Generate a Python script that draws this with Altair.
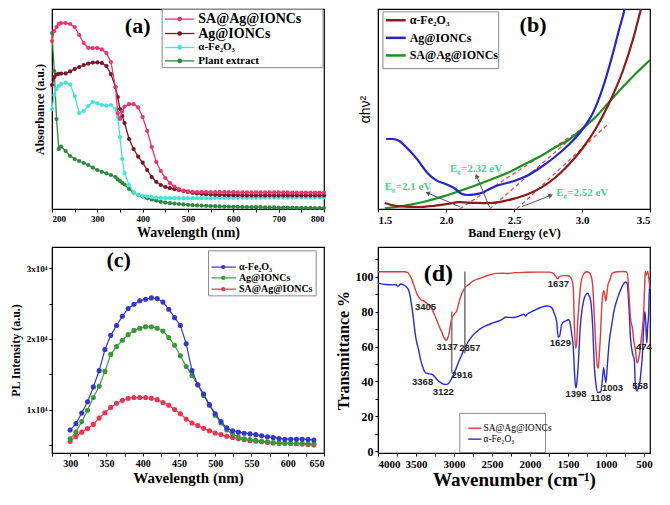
import math
import altair as alt
import pandas as pd

W = 272
H1 = 200
H2 = 206
SERIF = "Liberation Serif"
SANS = "Liberation Sans"

# ---------------- (a) UV-Vis absorbance ----------------
A_WL = [200, 205, 210, 215, 220] + list(range(230, 341, 10)) + [345, 350, 355] + list(range(360, 801, 10))
A_SA = [0.84, 0.89, 0.91, 0.925, 0.93,
        0.93, 0.925, 0.91, 0.87, 0.83, 0.806, 0.805, 0.805, 0.798, 0.78, 0.735, 0.61,
        0.48, 0.45, 0.49,
        0.512, 0.524, 0.524, 0.508, 0.46, 0.39, 0.31, 0.235, 0.19, 0.155,
        0.13, 0.112, 0.1, 0.092, 0.088, 0.086,
        0.085, 0.085, 0.085, 0.084, 0.084, 0.084, 0.084, 0.084, 0.084, 0.083, 0.083, 0.083, 0.083, 0.083,
        0.083, 0.083, 0.083, 0.083, 0.083, 0.083, 0.083, 0.082, 0.082, 0.082, 0.082, 0.082, 0.082, 0.082, 0.082]
A_AG = [0.62, 0.66, 0.672, 0.676, 0.677,
        0.678, 0.688, 0.70, 0.71, 0.72, 0.727, 0.732, 0.733, 0.73, 0.715, 0.675, 0.61,
        0.56, 0.50, 0.465,
        0.43, 0.35, 0.30, 0.262, 0.232, 0.195, 0.16, 0.136, 0.12, 0.11,
        0.104, 0.099, 0.095, 0.09, 0.085, 0.081,
        0.078, 0.076, 0.074, 0.072, 0.071, 0.07, 0.07, 0.069, 0.069, 0.069, 0.068, 0.068, 0.068, 0.068,
        0.068, 0.068, 0.068, 0.068, 0.068, 0.068, 0.068, 0.068, 0.068, 0.068, 0.068, 0.068, 0.068, 0.068, 0.068]
A_FE = [0.50, 0.57, 0.60, 0.615, 0.625,
        0.632, 0.622, 0.565, 0.48, 0.49, 0.515, 0.535, 0.528, 0.52, 0.517, 0.52, 0.50,
        0.46, 0.36, 0.25,
        0.18, 0.12, 0.085, 0.072, 0.066, 0.062, 0.059, 0.057, 0.056, 0.055,
        0.055, 0.054, 0.054, 0.054, 0.054, 0.054,
        0.054, 0.054, 0.054, 0.054, 0.055, 0.055, 0.055, 0.055, 0.055, 0.056, 0.056, 0.056, 0.056, 0.056,
        0.056, 0.057, 0.057, 0.057, 0.057, 0.057, 0.057, 0.057, 0.058, 0.058, 0.058, 0.058, 0.058, 0.058, 0.058]
A_PL = [0.88, 0.69, 0.45, 0.30, 0.312,
        0.29, 0.265, 0.25, 0.24, 0.23, 0.22, 0.207, 0.195, 0.186, 0.178, 0.17, 0.16,
        0.148, 0.14, 0.13,
        0.122, 0.10, 0.082, 0.07, 0.062, 0.054, 0.048, 0.042, 0.036, 0.032,
        0.029, 0.027, 0.025, 0.023, 0.021, 0.019,
        0.018, 0.017, 0.016, 0.015, 0.014, 0.013, 0.012, 0.012, 0.011, 0.011, 0.01, 0.01, 0.009, 0.009,
        0.009, 0.008, 0.008, 0.008, 0.007, 0.007, 0.007, 0.007, 0.006, 0.006, 0.006, 0.006, 0.005, 0.005, 0.005]
A_NAMES = ["SA@Ag@IONCs", "Ag@IONCs", "α-Fe₂O₃", "Plant extract"]
A_COLORS = ["#f2316f", "#7b1526", "#3fe6d6", "#2b8a3e"]

# ---------------- (b) Tauc plot ----------------
B_FE_E = [1.55, 1.60, 1.70, 1.80, 1.90, 2.00, 2.10, 2.20, 2.30, 2.40, 2.50, 2.60, 2.70, 2.80, 2.90, 3.00, 3.10, 3.20, 3.30, 3.38, 3.43, 3.46]
B_FE_V = [0.03, 0.02, 0.012, 0.01, 0.015, 0.024, 0.034, 0.031, 0.029, 0.036, 0.052, 0.074, 0.107, 0.155, 0.22, 0.30, 0.40, 0.53, 0.69, 0.86, 0.99, 1.06]
B_AG_E = [1.56, 1.60, 1.65, 1.72, 1.79, 1.86, 1.93, 2.00, 2.07, 2.11, 2.16, 2.20, 2.26, 2.32, 2.39, 2.45, 2.50, 2.60, 2.70, 2.80, 2.90, 3.00, 3.08, 3.15, 3.22, 3.27, 3.31, 3.33]
B_AG_V = [0.35, 0.35, 0.343, 0.30, 0.247, 0.183, 0.143, 0.124, 0.10, 0.078, 0.07, 0.072, 0.08, 0.10, 0.12, 0.13, 0.14, 0.168, 0.21, 0.26, 0.32, 0.395, 0.48, 0.60, 0.76, 0.89, 0.99, 1.05]
B_SA_E = [1.55, 1.65, 1.74, 1.86, 1.98, 2.10, 2.22, 2.34, 2.46, 2.58, 2.71, 2.81, 2.90, 3.00, 3.10, 3.20, 3.30, 3.40, 3.50]
B_SA_V = [0.003, 0.012, 0.022, 0.04, 0.063, 0.09, 0.119, 0.15, 0.183, 0.225, 0.27, 0.311, 0.345, 0.40, 0.46, 0.535, 0.61, 0.68, 0.745]
B_NAMES = ["α-Fe₂O₃", "Ag@IONCs", "SA@Ag@IONCs"]
B_COLORS = ["#8b1a1a", "#2424c8", "#1f8f1f"]
# tangent (extrapolation) lines: start/end
B_TAN_X1 = [2.10, 2.32, 2.52]
B_TAN_Y1 = [0.0, 0.0, 0.0]
B_TAN_X2 = [3.00, 3.05, 3.20]
B_TAN_Y2 = [0.40, 0.43, 0.43]
B_EG_TEXT = ["=2.1 eV", "=2.32 eV", "=2.52 eV"]
B_EG_X = [1.55, 2.03, 2.81]
B_EG_Y = [0.11, 0.20, 0.08]
B_ARR_TX = [2.10, 2.32, 2.56]
B_ARR_TY = [0.012, 0.01, 0.012]
B_ARR_HX = [1.865, 2.225, 2.77]
B_ARR_HY = [0.08, 0.165, 0.068]

# ---------------- (c) PL spectra ----------------
C_WL = list(range(300, 637, 8))
C_FE = [7100, 8000, 9500, 11100, 13200, 15500, 18500, 20500, 21900, 23200,
        24300, 24900, 25400, 25600, 25800, 25700, 25200, 24200, 23000, 21900,
        19300, 15500, 13500, 12200, 10700, 9400, 8300, 7400, 7000, 6800,
        6650, 6550, 6450, 6300, 6150, 6050, 5900, 5800, 5800, 5800,
        5800, 5750, 5700]
C_AG = [5870, 6800, 8300, 9900, 11700, 13300, 15400, 17800, 18900, 19800,
        20600, 21200, 21500, 21700, 21700, 21500, 21100, 20200, 19100, 17600,
        16100, 14800, 13500, 12000, 10600, 9200, 8100, 7100, 6500, 6100,
        5870, 5740, 5650, 5520, 5430, 5340, 5290, 5250, 5200, 5200,
        5200, 5160, 5110]
C_SA = [5500, 6200, 6800, 7300, 7900, 8800, 9550, 10300, 10900, 11300,
        11600, 11700, 11700, 11700, 11600, 11400, 11000, 10600, 10000, 9400,
        8650, 8100, 7750, 7350, 7000, 6680, 6460, 6230, 6050, 5870,
        5740, 5600, 5520, 5430, 5340, 5250, 5200, 5200, 5200, 5160,
        5110, 5070, 4980]
C_NAMES = ["α-Fe₂O₃", "Ag@IONCs", "SA@Ag@IONCs"]
C_COLORS = ["#3535cf", "#379a37", "#ea3550"]

# ---------------- (d) FTIR ----------------
D_RED_WN = [4000, 3800, 3650, 3611, 3560, 3483, 3440, 3396, 3350, 3310, 3265, 3224, 3180, 3159, 3137, 3116, 3100, 3085, 3065, 3051,
            3030, 2999, 2964, 2930, 2900, 2860, 2813, 2750, 2662, 2550, 2446, 2350, 2300, 2200, 2058, 1900, 1750, 1690, 1660, 1637,
            1610, 1560, 1500, 1455, 1430, 1415, 1398, 1385, 1370, 1360, 1340, 1317, 1280, 1252, 1220, 1187, 1170, 1157, 1135, 1114,
            1100, 1088, 1070, 1058, 1040, 1028, 1015, 1003, 990, 970, 958, 915, 850, 763, 720, 700, 677, 650, 630, 612,
            590, 570, 550, 538, 520, 503, 490, 483, 470, 450, 430, 420]
D_RED_T = [102.8, 102.8, 102.8, 102.5, 99, 89.7, 87, 86, 84.5, 83.2, 79, 74.8, 70, 68.2, 65.5, 64, 63.6, 64.5, 67.5, 71,
           76, 78.5, 80.4, 86, 90, 93.5, 95.3, 97.5, 99, 100.8, 101.9, 102, 101.8, 102.3, 102.5, 102.6, 102.6, 101.9, 100, 98.8,
           100.2, 100.6, 100.5, 99, 94, 71, 59, 62, 75, 80.6, 92, 99, 102.3, 102.8, 102.3, 99, 92, 80.6, 62, 49,
           47.5, 54.6, 68, 80.6, 90, 92, 90, 86, 89, 96, 97, 102, 102.8, 103, 102.5, 92, 76.6, 70, 62, 58,
           50.5, 53, 58, 63.5, 70, 80, 95, 103, 101, 103, 97, 93]
D_BLUE_WN = [4000, 3900, 3806, 3763, 3741, 3700, 3672, 3633, 3591, 3547, 3504, 3460, 3439, 3400, 3375, 3340, 3288, 3250, 3224, 3159,
             3122, 3094, 3060, 3038, 2986, 2940, 2900, 2860, 2813, 2750, 2683, 2600, 2468, 2350, 2330, 2209, 2150, 2079, 2060, 2036,
             1950, 1850, 1777, 1740, 1712, 1680, 1647, 1629, 1610, 1580, 1540, 1519, 1490, 1475, 1450, 1432, 1410, 1398, 1390, 1368,
             1338, 1295, 1260, 1243, 1220, 1200, 1174, 1153, 1130, 1108, 1085, 1065, 1045, 1030, 1015, 1000, 980, 958, 925, 893,
             860, 828, 780, 742, 720, 700, 677, 650, 626, 612, 590, 570, 555, 540, 525, 503, 490, 483, 470, 462,
             450, 440, 430, 420]
D_BLUE_T = [96.3, 95.5, 95.3, 95.5, 94.4, 95.8, 95.5, 94.4, 91.6, 80.4, 65.4, 57, 52.3, 47, 44.9, 44.5, 44, 42.5, 41.1, 38.9,
            38.3, 38.3, 39.5, 41.1, 45.8, 51, 55, 59, 62.6, 66.5, 69.2, 71.5, 73.8, 76, 76.8, 76.6, 77.3, 78.5, 77.5, 78.5,
            80.5, 82.5, 83.2, 83, 82.2, 79, 73.8, 65.4, 66, 72.9, 74.5, 74.8, 75.5, 74, 67, 61, 42.6, 36.4, 37, 47,
            71, 86, 90, 90.5, 89, 86, 71, 49, 38, 33.6, 33.8, 34.5, 42, 47.8, 43, 39.3, 50, 62, 72, 80.6,
            86, 90, 95, 97, 96, 85, 65, 56, 52, 37, 34.5, 37, 39, 45, 52, 71, 80, 78.5, 68, 62,
            72, 77, 90, 100]
D_NAMES = ["SA@Ag@IONCs", "α-Fe₂O₃"]
D_COLORS = ["#e03a3a", "#2a2ad8"]
D_PEAK_TEXT = ["3405", "3137", "2857", "3368", "3122", "2916", "1637", "1629", "1398", "1108", "1003", "558", "474"]
D_PEAK_X = [3375, 3090, 2792, 3413, 3141, 2895, 1626, 1600, 1393, 1069, 914, 551, 500]
D_PEAK_Y = [82.6, 59.6, 59.0, 39.4, 33.8, 43.4, 95.6, 62.0, 32.7, 30.5, 36.0, 37.2, 59.6]
D_VLINE_X = [3030, 2857]
D_VLINE_Y1 = [45, 56]
D_VLINE_Y2 = [80, 103]


def legend_block(labels, colors, rows, box, line_x, text_x, sizes, sx, sy, H,
                 point_x=None, pt_size=20, line_w=1.5, weight="bold"):
    d = pd.DataFrame({"label": labels, "color": colors,
                      "ypx": [r * sy for r in rows], "fs": sizes})
    yenc = alt.Y("ypx:Q", scale=alt.Scale(domain=[0, H], range=[0, H], nice=False, zero=False), axis=None)
    col = alt.Color("color:N", scale=None)
    box_c = alt.Chart(pd.DataFrame({"k": [0]})).mark_rect(
        fill="white", stroke="#8a8a8a", strokeWidth=1).encode(
        x=alt.value(box[0] * sx), x2=alt.value(box[2] * sx),
        y=alt.value(max(box[1] * sy, 0.5)), y2=alt.value(box[3] * sy))
    base = alt.Chart(d)
    seg = base.mark_rule(strokeWidth=line_w).encode(
        x=alt.value(line_x[0] * sx), x2=alt.value(line_x[1] * sx), y=yenc, color=col)
    layers = [box_c, seg]
    if point_x is not None:
        layers.append(base.mark_circle(size=pt_size, opacity=1).encode(
            x=alt.value(point_x * sx), y=yenc, color=col))
    layers.append(base.mark_text(align="left", baseline="middle", font=SERIF,
                                 fontWeight=weight, color="black").encode(
        x=alt.value(text_x * sx), y=yenc, text="label:N", size=alt.Size("fs:Q", scale=None)))
    return alt.layer(*layers)


# ================= panel (a) =================
xa = alt.X("wl:Q", scale=alt.Scale(domain=[200, 800], nice=False),
           axis=alt.Axis(values=list(range(200, 801, 50)),
                         labelExpr="datum.value % 100 == 0 ? datum.value : ''",
                         title="Wavelength (nm)", labelFontSize=9, titleFontSize=14,
                         labelPadding=2, titlePadding=2, tickSize=3))
ya = alt.Y("v:Q", scale=alt.Scale(domain=[0, 1], nice=False),
           axis=alt.Axis(labels=False, ticks=False, title="Absorbance (a.u.)",
                         titleFontSize=12, titlePadding=6))
a_layers = []
for name, vals, colr in reversed(list(zip(A_NAMES, [A_SA, A_AG, A_FE, A_PL], A_COLORS))):
    df = pd.DataFrame({"wl": A_WL, "v": vals})
    a_layers.append(alt.Chart(df).mark_line(strokeWidth=1.3, color=colr).encode(x=xa, y=ya))
    a_layers.append(alt.Chart(df).mark_circle(size=18, opacity=1, color=colr).encode(x=xa, y=ya))
a_layers.append(alt.Chart(pd.DataFrame({"wl": [389], "v": [0.913], "t": ["(a)"]})).mark_text(
    font=SERIF, fontWeight="bold", fontSize=22).encode(x=xa, y=ya, text="t:N"))
sxa, sya = W / 279, H1 / 208
leg_a = legend_block(A_NAMES, A_COLORS, [10.5, 25.5, 40, 54], (113, 0, 278, 61), (116, 146), 150,
                     [14, 14, 11, 11], sxa, sya, H1, point_x=131, pt_size=22, line_w=1.3)
pa = alt.layer(alt.layer(*a_layers), leg_a).resolve_scale(y="independent").properties(width=W, height=H1)

# ================= panel (b) =================
xb = alt.X("e:Q", scale=alt.Scale(domain=[1.5, 3.5], nice=False, zero=False),
           axis=alt.Axis(values=[1.5, 1.75, 2.0, 2.25, 2.5, 2.75, 3.0, 3.25, 3.5],
                         labelExpr="(round(datum.value*100) % 50 == 0) ? format(datum.value, '.1f') : ''",
                         title="Band Energy (eV)", labelFontSize=11, titleFontSize=12,
                         labelPadding=2, titlePadding=2, tickSize=3))
yb = alt.Y("v:Q", scale=alt.Scale(domain=[0, 1], nice=False),
           axis=alt.Axis(labels=False, ticks=False, title="αhν²", titleFont=SANS,
                         titleFontWeight="normal", titleFontSize=14, titlePadding=6))
b_layers = []
tan_df = pd.DataFrame({"e": B_TAN_X1, "v": B_TAN_Y1, "e2": B_TAN_X2, "v2": B_TAN_Y2})
b_layers.append(alt.Chart(tan_df).mark_rule(color="#ee4a5c", strokeWidth=1.3, strokeDash=[4, 3]).encode(
    x=xb, y=yb, x2="e2:Q", y2="v2:Q"))
for name, es, vs, colr in reversed(list(zip(B_NAMES, [B_FE_E, B_AG_E, B_SA_E], [B_FE_V, B_AG_V, B_SA_V], B_COLORS))):
    df = pd.DataFrame({"e": es, "v": vs})
    b_layers.append(alt.Chart(df).mark_line(strokeWidth=2.2, color=colr, clip=True, interpolate="monotone").encode(x=xb, y=yb))
angles = []
for tx, ty, hx, hy in zip(B_ARR_TX, B_ARR_TY, B_ARR_HX, B_ARR_HY):
    sxp = (hx - tx) * W / 2.0
    syp = -(hy - ty) * H1
    angles.append(math.degrees(math.atan2(sxp, -syp)) % 360)
arr_df = pd.DataFrame({"e": B_ARR_TX, "v": B_ARR_TY, "e2": B_ARR_HX, "v2": B_ARR_HY, "ang": angles})
b_layers.append(alt.Chart(arr_df).mark_rule(color="#555555", strokeWidth=1).encode(x=xb, y=yb, x2="e2:Q", y2="v2:Q"))
b_layers.append(alt.Chart(arr_df).mark_point(shape="triangle-up", filled=True, size=28, color="#555555", opacity=1).encode(
    x=alt.X("e2:Q", scale=alt.Scale(domain=[1.5, 3.5], nice=False, zero=False)),
    y=alt.Y("v2:Q", scale=alt.Scale(domain=[0, 1], nice=False)),
    angle=alt.Angle("ang:Q", scale=None)))
eg_df = pd.DataFrame({"e": B_EG_X, "v": B_EG_Y, "t": B_EG_TEXT, "E": ["E"] * 3, "g": ["g"] * 3})
EGC = "#37d98a"
b_layers.append(alt.Chart(eg_df).mark_text(align="left", baseline="middle", font=SERIF, fontWeight="bold",
                                           fontSize=11, color=EGC).encode(x=xb, y=yb, text="E:N"))
b_layers.append(alt.Chart(eg_df).mark_text(align="left", baseline="middle", font=SERIF, fontWeight="bold",
                                           fontSize=7, color=EGC, dx=7, dy=3).encode(x=xb, y=yb, text="g:N"))
b_layers.append(alt.Chart(eg_df).mark_text(align="left", baseline="middle", font=SERIF, fontWeight="bold",
                                           fontSize=11, color=EGC, dx=11).encode(x=xb, y=yb, text="t:N"))
b_layers.append(alt.Chart(pd.DataFrame({"e": [2.64], "v": [0.92], "t": ["(b)"]})).mark_text(
    font=SERIF, fontWeight="bold", fontSize=22).encode(x=xb, y=yb, text="t:N"))
sxb, syb = W / 275, H1 / 208
leg_b = legend_block(B_NAMES, B_COLORS, [11.7, 30, 48.3], (5, 3, 122, 62), (8, 28), 32,
                     [12, 12, 12], sxb, syb, H1, line_w=2.5)
pb = alt.layer(alt.layer(*b_layers), leg_b).resolve_scale(y="independent").properties(width=W, height=H1)

# ================= panel (c) =================
xc = alt.X("wl:Q", scale=alt.Scale(domain=[275, 650], nice=False, zero=False),
           axis=alt.Axis(values=list(range(275, 651, 25)),
                         labelExpr="datum.value % 50 == 0 ? datum.value : ''",
                         title="Wavelength (nm)", labelFontSize=10, titleFontSize=15,
                         labelPadding=2, titlePadding=2, tickSize=3))
yc = alt.Y("v:Q", scale=alt.Scale(domain=[3850, 33000], nice=False, zero=False),
           axis=alt.Axis(values=[5000, 10000, 15000, 20000, 25000, 30000],
                         labelExpr="datum.value % 10000 == 0 ? (datum.value/10000) + 'x10⁴' : ''",
                         title="PL Intensity (a.u.)", labelFontSize=9, titleFontSize=12,
                         labelPadding=2, titlePadding=4, tickSize=3))
c_layers = []
for name, vals, colr in reversed(list(zip(C_NAMES, [C_FE, C_AG, C_SA], C_COLORS))):
    df = pd.DataFrame({"wl": C_WL, "v": vals})
    c_layers.append(alt.Chart(df).mark_line(strokeWidth=1.2, color=colr).encode(x=xc, y=yc))
    c_layers.append(alt.Chart(df).mark_circle(size=26, opacity=1, color=colr).encode(x=xc, y=yc))
c_layers.append(alt.Chart(pd.DataFrame({"wl": [367], "v": [31100], "t": ["(c)"]})).mark_text(
    font=SERIF, fontWeight="bold", fontSize=22).encode(x=xc, y=yc, text="t:N"))
sxc, syc = W / 278, H2 / 215
leg_c = legend_block(C_NAMES, C_COLORS, [21, 32.3, 44], (160, 4, 270, 51), (163, 188), 191,
                     [10, 10, 10], sxc, syc, H2, point_x=175, pt_size=18, line_w=1.2)
pc = alt.layer(alt.layer(*c_layers), leg_c).resolve_scale(y="independent").properties(width=W, height=H2)

# ================= panel (d) =================
xd = alt.X("wn:Q", scale=alt.Scale(domain=[420, 4000], reverse=True, nice=False, zero=False),
           axis=alt.Axis(values=list(range(500, 4001, 250)),
                         labelExpr="datum.value % 500 == 0 ? datum.value : ''",
                         title="Wavenumber (cm⁻¹)", labelFontSize=11, titleFontSize=19,
                         labelPadding=2, titlePadding=1, tickSize=3))
yd = alt.Y("t:Q", scale=alt.Scale(domain=[-1, 117], nice=False, zero=False),
           axis=alt.Axis(values=list(range(0, 111, 10)),
                         labelExpr="datum.value % 20 == 0 ? datum.value : ''",
                         title="Transmittance %", labelFontSize=12, titleFontSize=16,
                         labelPadding=2, titlePadding=4, tickSize=3))
d_layers = []
for name, xs, ys, colr in reversed(list(zip(D_NAMES, [D_RED_WN, D_BLUE_WN], [D_RED_T, D_BLUE_T], D_COLORS))):
    df = pd.DataFrame({"wn": xs, "t": ys})
    d_layers.append(alt.Chart(df).mark_line(strokeWidth=1.4, color=colr, interpolate="monotone").encode(
        x=xd, y=yd, order=alt.Order("wn:Q", sort="descending")))
vl_df = pd.DataFrame({"wn": D_VLINE_X, "t": D_VLINE_Y1, "t2": D_VLINE_Y2})
d_layers.append(alt.Chart(vl_df).mark_rule(color="#7a7a7a", strokeWidth=1.6).encode(x=xd, y=yd, y2="t2:Q"))
pk_df = pd.DataFrame({"wn": D_PEAK_X, "t": D_PEAK_Y, "lab": D_PEAK_TEXT})
d_layers.append(alt.Chart(pk_df).mark_text(font=SANS, fontWeight="bold", fontSize=9.5, color="#222222").encode(
    x=xd, y=yd, text="lab:N"))
d_layers.append(alt.Chart(pd.DataFrame({"wn": [3206], "t": [101.3], "lab": ["(d)"]})).mark_text(
    font=SERIF, fontWeight="bold", fontSize=24).encode(x=xd, y=yd, text="lab:N"))
sxd, syd = W / 276, H2 / 208
leg_d = legend_block(D_NAMES, D_COLORS, [183, 194], (83, 168, 170, 207.5), (91.6, 105), 107,
                     [9.5, 9.5], sxd, syd, H2, line_w=1.4, weight="normal")
pdd = alt.layer(alt.layer(*d_layers), leg_d).resolve_scale(y="independent").properties(width=W, height=H2)

chart = alt.concat(pa, pb, pc, pdd, columns=2, spacing=6).properties(
    padding={"left": 0, "top": 0, "right": 0, "bottom": 0}, background="white"
).configure_view(stroke="black", strokeWidth=1.2).configure_axis(
    labelFont=SERIF, titleFont=SERIF, labelFontWeight="bold", titleFontWeight="bold",
    labelColor="black", titleColor="black", domainColor="black", tickColor="black", grid=False
)

chart.save("out.html", embed_options={"renderer": "svg", "actions": False})
